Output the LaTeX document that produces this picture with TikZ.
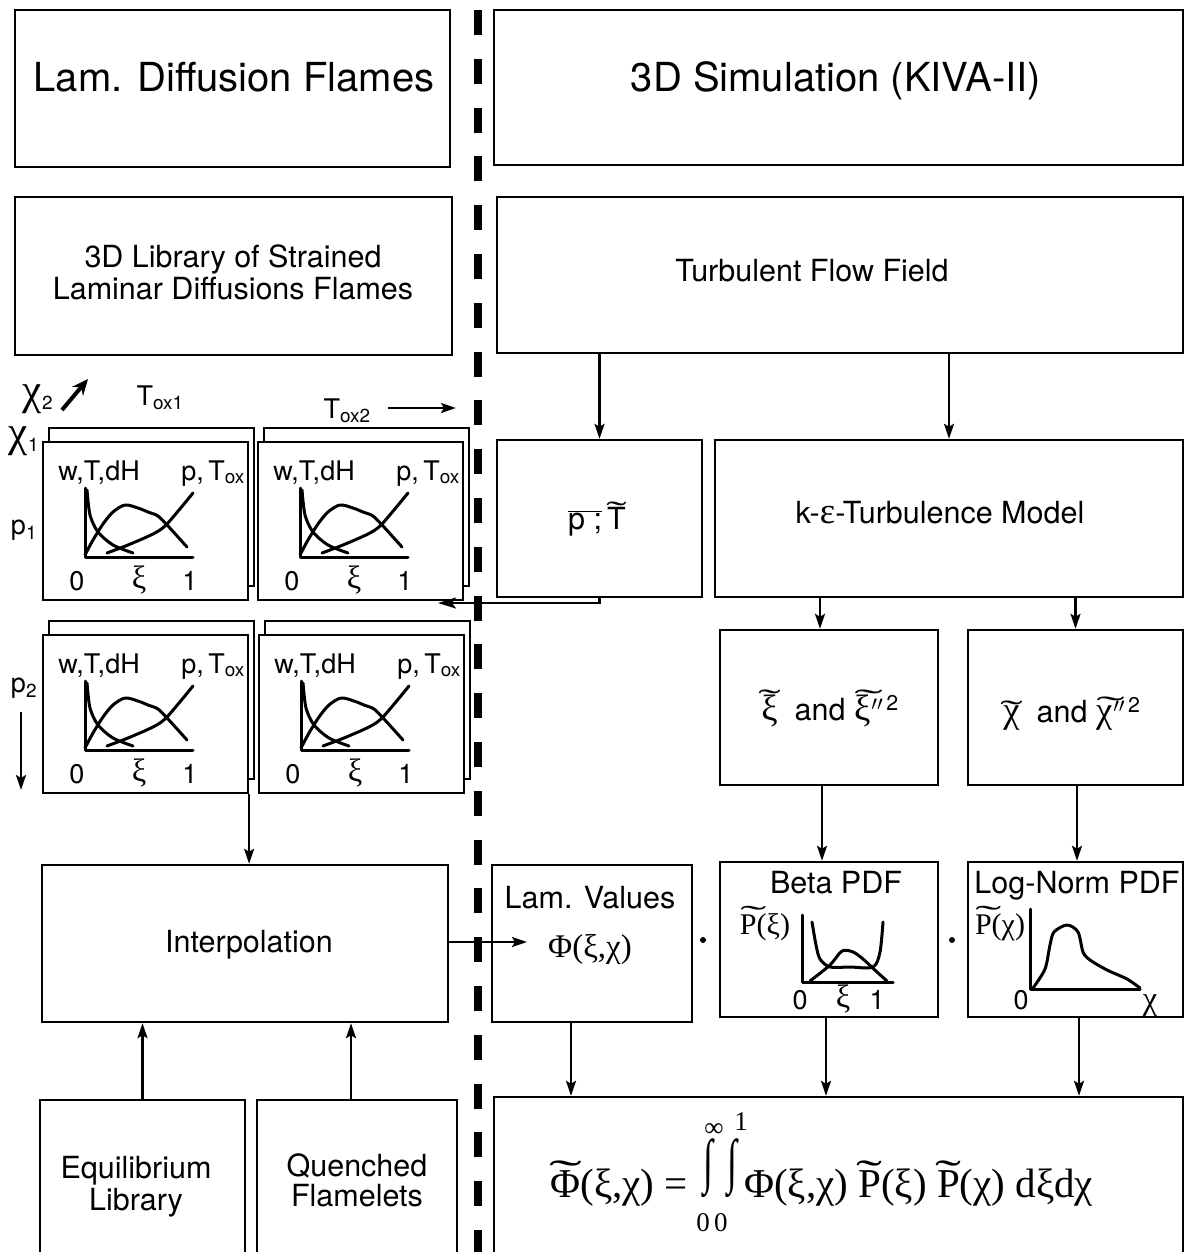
\documentclass[tikz,border=0pt]{standalone}
\usepackage{fontspec}
\setmainfont{TeX Gyre Heros}
\newfontfamily\gr[Scale=1.2]{Liberation Serif}
\newfontfamily\tms{Liberation Serif}
\usetikzlibrary{arrows.meta,fit}
% tilde accent made of a stretched text tilde: [extra raise]{horizontal scale}{content}
\newcommand\tl[3][0pt]{\leavevmode\setbox0=\hbox{#3}%
  \rlap{\hbox to \wd0{\hss\raisebox{\dimexpr\ht0-1ex+#1\relax}{\scalebox{#2}[1]{\tms\char"02DC}}\hss}}\box0}
\newcommand\plotpanel[3]{%
 \begin{scope}[shift={(#1,#2)}]
  \node[panel, fit={(6,-14) (211,144)}] (#3b) {};
  \node[panel, fit={(0,0) (205,158)}] (#3) {};
  \node[plab, anchor=base] (#3w) at (56,38) {w,T,dH};
  \node[plab, anchor=base] (#3p) at (170,38) {p,\,T\textsubscript{ox}};
  \draw[curve] (42,46) -- (42,115) -- (150,115);
  \draw[curve] plot[smooth] coordinates {(44,48) (47,73) (55,90) (70,103) (90,111)};
  \draw[curve] plot[smooth] coordinates {(42,113) (50,98) (60,82) (70,70) (82,63) (95,66) (105,70) (115,74) (125,84) (135,95) (144,105)};
  \draw[curve] plot[smooth] coordinates {(64,111) (85,103) (110,92) (122,84) (136,68) (150,51)};
  \node[plab, anchor=base] (#3z) at (34,148) {0};
  \node[plab, anchor=base] (#3x) at (96,146) {\gr ξ};
  \node[plab, anchor=base] (#3o) at (147,148) {1};
 \end{scope}}
\begin{document}
\begin{tikzpicture}[x=1pt,y=-1pt,
  box/.style={draw, line width=2.4pt, inner sep=0pt},
  panel/.style={draw, line width=2.2pt, inner sep=0pt, fill=white},
  arr/.style={line width=2.3pt, -{Stealth[length=15pt,width=10pt,inset=3pt]}},
  bigtxt/.style={font=\fontsize{40}{44}\selectfont, inner sep=0pt},
  txt/.style={font=\fontsize{30.5}{34}\selectfont, inner sep=0pt},
  plab/.style={font=\fontsize{27}{30}\selectfont, inner sep=0pt},
  fml/.style={font=\tms\fontsize{41}{44}\selectfont, inner sep=0pt},
  lim/.style={font=\tms\fontsize{27}{30}\selectfont, inner sep=0pt},
  curve/.style={line width=3pt, line join=round, line cap=round},
  divider/.style={line width=7.5pt, dash pattern=on 25pt off 23.8pt},
  dotmark/.style={circle, fill, inner sep=0pt, minimum size=6pt},
]
\useasboundingbox (0,0) rectangle (1185,1252);
\fill[white] (0,0) rectangle (1185,1252);

% divider
\draw[divider] (478,10) -- (478,1260);

% top boxes
\node[box, fit={(15,10) (450,167)}] (lam) {};
\node[bigtxt, anchor=base] (lamt) at (234,92) {Lam. Diffusion Flames};
\node[box, fit={(494,10) (1183,165)}] (sim) {};
\node[bigtxt, anchor=base] (simt) at (836,92) {3D Simulation (KIVA-II)};
\node[box, fit={(15,197) (452,355)}] (lib) {};
\node[txt, anchor=base] (libt1) at (233,267) {3D Library of Strained};
\node[txt, anchor=base] (libt2) at (233,299) {Laminar Diffusions Flames};
\node[box, fit={(497,197) (1183,353)}] (tff) {};
\node[txt, anchor=base] (tfft) at (812,281) {Turbulent Flow Field};

% plot panels
\plotpanel{43}{442}{pa}
\plotpanel{258}{442}{pb}
\plotpanel{43}{635}{pc}
\plotpanel{259}{635}{pd}

% axis labels of the library
\node[plab] (chi2) at (38,399) {{\gr\fontsize{36}{38}\selectfont χ}\textsubscript{2}};
\coordinate (c2a) at (62,410);
\coordinate (c2b) at (88,379);
\draw[line width=4pt, -{Stealth[length=16pt,width=14pt]}] (c2a) -- (c2b);
\node[plab, anchor=base] (tox1) at (160,405) {T\textsubscript{ox1}};
\node[plab, anchor=base] (tox2) at (347,418) {T\textsubscript{ox2}};
\coordinate (t2a) at (388,408);
\coordinate (t2b) at (456,408);
\draw[arr] (t2a) -- (t2b);
\node[plab] (chi1) at (24,441) {{\gr\fontsize{36}{38}\selectfont χ}\textsubscript{1}};
\node[plab] (p1) at (24,530) {p\textsubscript{1}};
\node[plab] (p2) at (24,688) {p\textsubscript{2}};
\coordinate (p2a) at (21,712);
\coordinate (p2b) at (21,790);
\draw[arr] (p2a) -- (p2b);

% right middle
\node[box, fit={(497,440) (702,597)}] (pT) {};
\node[txt, anchor=base] (pTt) at (597,529) {$\overline{\mbox{p ;}}$\,\tl{2}{T}};
\node[box, fit={(715,440) (1183,597)}] (ke) {};
\node[txt, anchor=base] (ket) at (940,523) {k-{\gr ε}-Turbulence Model};
\node[box, fit={(720,630) (938,785)}] (xi) {};
\node[txt, anchor=base] (xit) at (830,720) {\tl{2.2}{\gr ξ}\ \ and \tl{2.8}{{\gr ξ}\kern1pt$''$}\kern3pt\textsuperscript{2}};
\node[box, fit={(968,630) (1183,785)}] (chi) {};
\node[txt, anchor=base] (chit) at (1072,722) {\tl{2.2}{\gr χ}\ \ and \tl{2.8}{{\gr χ}\kern1pt$''$}\kern3pt\textsuperscript{2}};

% arrows right side
\draw[arr] (tff.south -| pT.north) -- (pT.north);
\draw[arr] (tff.south -| ke.north) -- (ke.north);
\draw[arr] (ke.south -| 820,0) -- (xi.north -| 820,0);
\draw[arr] (ke.south -| chi.north) -- (chi.north);

% feedback arrow p;T -> library
\coordinate (fb) at (438,603);
\draw[line width=2.3pt, -{Stealth[length=18pt,width=11pt,inset=4pt]}] (pT.south) |- (fb);

% lower row
\node[box, fit={(42,865) (448,1022)}] (interp) {};
\node[txt, anchor=base] (interpt) at (249,952) {Interpolation};
\node[box, fit={(492,865) (692,1022)}] (lv) {};
\node[txt, anchor=base] (lvt) at (590,908) {Lam. Values};
\node[fml, font=\tms\fontsize{33}{36}\selectfont, anchor=base] (phi) at (590,957) {Φ(ξ,χ)};
\node[box, fit={(720,862) (938,1017)}] (beta) {};
\node[txt, anchor=base] (betat) at (836,893) {Beta PDF};
\node[box, fit={(968,862) (1183,1017)}] (logn) {};
\node[txt, anchor=base] (lognt) at (1077,893) {Log-Norm PDF};
\node[dotmark] (d1) at (703,940) {};
\node[dotmark] (d2) at (952,940) {};

% beta plot
\node[font=\tms\fontsize{30}{32}\selectfont, inner sep=0pt, anchor=base] (pxi) at (765,934) {\tl{2.6}{P(}ξ)};
\draw[curve] (802,915) -- (802,982) -- (893,982);
\draw[curve] plot[smooth] coordinates {(812,922) (816,945) (820,959) (830,967) (850,967) (873,967) (880,952) (883,922)};
\draw[curve] plot[smooth] coordinates {(810,981) (830,965) (842,951) (853,952) (863,959) (877,972) (887,981)};
\node[plab, anchor=base] (b0) at (800,1009) {0};
\node[plab, anchor=base] (bx) at (843,1007) {\gr ξ};
\node[plab, anchor=base] (b1) at (877,1009) {1};

% log-norm plot
\node[font=\tms\fontsize{30}{32}\selectfont, inner sep=0pt, anchor=base] (pchi) at (1000,934) {\tl{2.6}{P(}χ)};
\draw[curve] (1030,909) -- (1030,989) -- (1140,989);
\draw[curve] plot[smooth] coordinates {(1033,988) (1045,969) (1050,945) (1054,932) (1067,925) (1078,932) (1083,952) (1090,960) (1107,970) (1127,979) (1140,988)};
\node[plab, anchor=base] (l0) at (1021,1009) {0};
\node[plab, anchor=base] (lx) at (1150,1009) {\gr χ};

% bottom boxes
\node[box, fit={(40,1100) (245,1262)}] (eq) {};
\node[txt, anchor=base] (eqt1) at (136,1178) {Equilibrium};
\node[txt, anchor=base] (eqt2) at (136,1210) {Library};
\node[box, fit={(257,1100) (457,1262)}] (qf) {};
\node[txt, anchor=base] (qft1) at (357,1176) {Quenched};
\node[txt, anchor=base] (qft2) at (357,1206) {Flamelets};
\node[box, fit={(494,1097) (1183,1262)}] (form) {};

% formula
\node[fml, anchor=base east] (fl) at (688,1197) {\tl{2.4}{Φ}(ξ,χ) =};
\node[font=\tms\fontsize{60}{60}\selectfont, inner sep=0pt] (i1) at (708,1168) {\scalebox{0.6}[1]{∫}};
\node[font=\tms\fontsize{60}{60}\selectfont, inner sep=0pt] (i2) at (732,1168) {\scalebox{0.6}[1]{∫}};
\node[lim] (inf) at (714,1130) {∞};
\node[lim] (one) at (741,1122) {1};
\node[lim] (zz) at (712,1223) {0\,0};
\node[fml, anchor=base west] (fr) at (744,1197) {Φ(ξ,χ) \tl{1.9}{P}(ξ) \tl{1.9}{P}(χ) dξdχ};

% arrows lower
\draw[arr] (pc.south east) -- (interp.north -| pc.south east);
\coordinate (lvin) at (527,942);
\draw[arr] (interp.east |- lvin) -- (lvin);
\draw[arr] (eq.north) -- (interp.south -| eq.north);
\draw[arr] (qf.north -| 351,0) -- (interp.south -| 351,0);
\draw[arr] (xi.south -| 822,0) -- (beta.north -| 822,0);
\draw[arr] (chi.south -| 1077,0) -- (logn.north -| 1077,0);
\draw[arr] (lv.south -| 571,0) -- (form.north -| 571,0);
\draw[arr] (beta.south -| 826,0) -- (form.north -| 826,0);
\draw[arr] (logn.south -| 1079,0) -- (form.north -| 1079,0);
\end{tikzpicture}
\end{document}
